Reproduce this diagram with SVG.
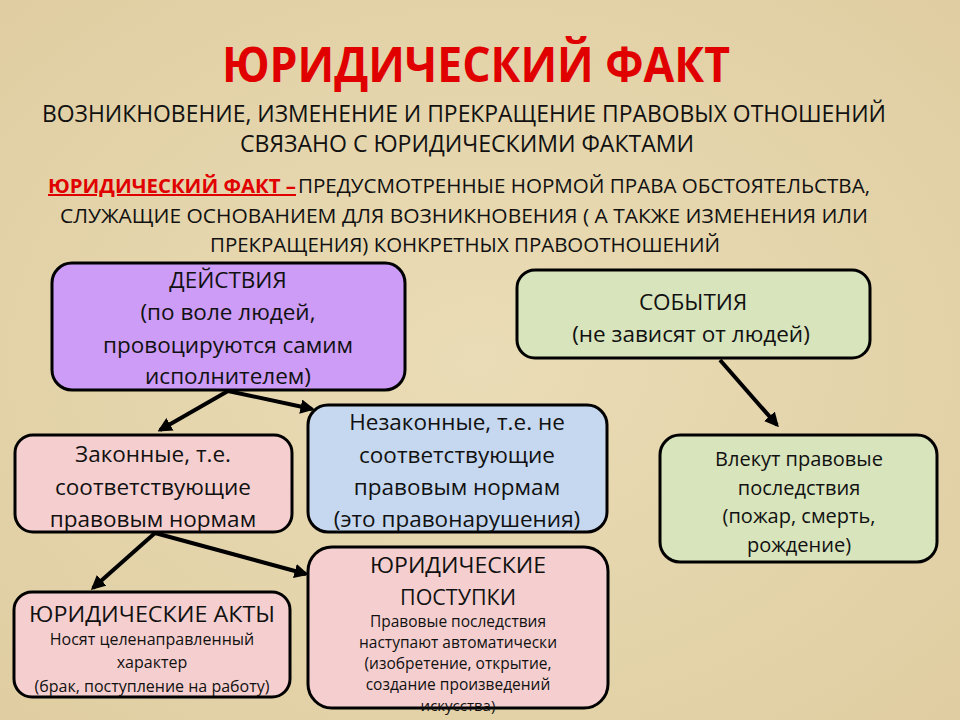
<svg xmlns="http://www.w3.org/2000/svg" width="960" height="720" viewBox="0 0 960 720">
<defs>
<marker id="ah" viewBox="0 0 10 10" refX="8" refY="5" markerWidth="3.6" markerHeight="3.6" orient="auto" markerUnits="strokeWidth">
<path d="M0,0 L10,5 L0,10 Z" fill="#000"/>
</marker>
<radialGradient id="bg" cx="50%" cy="50%" r="70%">
<stop offset="0" stop-color="#eadcb6"/>
<stop offset="1" stop-color="#e0cea2"/>
</radialGradient>
</defs>
<style>
.box{stroke:#000;stroke-width:3}
.t{font-family:"Open Sans","Liberation Sans",sans-serif;fill:#111;text-anchor:middle}
.h{font-family:"Open Sans","Liberation Sans",sans-serif;fill:#111;text-anchor:middle;font-size:24px}
.r{fill:#e00000}
.c{stroke:#000;stroke-width:4;fill:none;marker-end:url(#ah)}
</style>
<rect width="960" height="720" fill="url(#bg)"/>
<g id="header">
<text x="476" y="82" class="t r" style="font-weight:bold;font-size:48px" textLength="508" lengthAdjust="spacingAndGlyphs">ЮРИДИЧЕСКИЙ ФАКТ</text>
<text x="464" y="122" class="h" textLength="844" lengthAdjust="spacingAndGlyphs">ВОЗНИКНОВЕНИЕ, ИЗМЕНЕНИЕ И ПРЕКРАЩЕНИЕ ПРАВОВЫХ ОТНОШЕНИЙ</text>
<text x="467" y="152" class="h" textLength="454" lengthAdjust="spacingAndGlyphs">СВЯЗАНО С ЮРИДИЧЕСКИМИ ФАКТАМИ</text>
<text x="48" y="193" class="h r" style="text-anchor:start;font-weight:bold;font-size:20px;text-decoration:underline" textLength="248" lengthAdjust="spacingAndGlyphs">ЮРИДИЧЕСКИЙ ФАКТ – </text>
<text x="298" y="193" class="h" style="text-anchor:start;font-size:20px" textLength="572" lengthAdjust="spacingAndGlyphs">ПРЕДУСМОТРЕННЫЕ НОРМОЙ ПРАВА ОБСТОЯТЕЛЬСТВА,</text>
<text x="464" y="223" class="h" style="font-size:20px" textLength="808" lengthAdjust="spacingAndGlyphs">СЛУЖАЩИЕ ОСНОВАНИЕМ  ДЛЯ ВОЗНИКНОВЕНИЯ ( А ТАКЖЕ ИЗМЕНЕНИЯ ИЛИ</text>
<text x="465" y="252" class="h" style="font-size:20px" textLength="510" lengthAdjust="spacingAndGlyphs">ПРЕКРАЩЕНИЯ) КОНКРЕТНЫХ ПРАВООТНОШЕНИЙ</text>
</g>
<g id="connectors">
<line class="c" x1="228" y1="391" x2="160" y2="430"/>
<line class="c" x1="228" y1="391" x2="312" y2="409"/>
<line class="c" x1="720" y1="360" x2="777" y2="425"/>
<line class="c" x1="155" y1="533" x2="93" y2="588"/>
<line class="c" x1="155" y1="533" x2="306" y2="574"/>
</g>
<g id="actions">
<rect class="box" x="52" y="263" width="353" height="127" rx="20" fill="#cc9cf6"/>
<text class="t" x="228" y="288" font-size="22.5">ДЕЙСТВИЯ</text>
<text class="t" x="228" y="320" font-size="22.5">(по воле людей,</text>
<text class="t" x="228" y="353" font-size="22.5">провоцируются самим</text>
<text class="t" x="228" y="384" font-size="22.5">исполнителем)</text>
</g>
<g id="events">
<rect class="box" x="517" y="270" width="353" height="88" rx="18" fill="#d8e4bc"/>
<text class="t" x="693" y="310" font-size="22.5">СОБЫТИЯ</text>
<text class="t" x="691" y="342" font-size="22.5">(не зависят от людей)</text>
</g>
<g id="lawful">
<rect class="box" x="15" y="435" width="277" height="97" rx="18" fill="#f5cfcf"/>
<text class="t" x="153" y="462" font-size="22.5">Законные, т.е.</text>
<text class="t" x="153" y="495" font-size="22.5">соответствующие</text>
<text class="t" x="153" y="527" font-size="22.5">правовым нормам</text>
</g>
<g id="unlawful">
<rect class="box" x="308" y="405" width="299" height="127" rx="20" fill="#c6d8ef"/>
<text class="t" x="457" y="430" font-size="22.5">Незаконные, т.е. не</text>
<text class="t" x="457" y="463" font-size="22.5">соответствующие</text>
<text class="t" x="457" y="495" font-size="22.5">правовым нормам</text>
<text class="t" x="457" y="527" font-size="22.5">(это правонарушения)</text>
</g>
<g id="consequences">
<rect class="box" x="660" y="435" width="277" height="127" rx="20" fill="#d8e4bc"/>
<text class="t" x="799" y="466" font-size="20">Влекут правовые</text>
<text class="t" x="799" y="495" font-size="20">последствия</text>
<text class="t" x="799" y="523" font-size="20">(пожар, смерть,</text>
<text class="t" x="799" y="552" font-size="20">рождение)</text>
</g>
<g id="legal-acts">
<rect class="box" x="14" y="592" width="276" height="105" rx="18" fill="#f5cfcf"/>
<text class="t" x="152" y="622" font-size="22" textLength="246" lengthAdjust="spacingAndGlyphs">ЮРИДИЧЕСКИЕ АКТЫ</text>
<text class="t" x="152" y="645" font-size="16">Носят целенаправленный</text>
<text class="t" x="152" y="668" font-size="16">характер</text>
<text class="t" x="152" y="692" font-size="16">(брак, поступление на работу)</text>
</g>
<g id="legal-deeds">
<rect class="box" x="308" y="547" width="300" height="161" rx="24" fill="#f5cfcf"/>
<text class="t" x="458" y="573" font-size="22" textLength="176" lengthAdjust="spacingAndGlyphs">ЮРИДИЧЕСКИЕ</text>
<text class="t" x="458" y="605" font-size="22" textLength="116" lengthAdjust="spacingAndGlyphs">ПОСТУПКИ</text>
<text class="t" x="458" y="627" font-size="15.5">Правовые последствия</text>
<text class="t" x="458" y="648" font-size="15.5">наступают автоматически</text>
<text class="t" x="458" y="669" font-size="15.5">(изобретение, открытие,</text>
<text class="t" x="458" y="690" font-size="15.5">создание произведений</text>
<text class="t" x="458" y="711" font-size="15">искусства)</text>
</g>
</svg>
